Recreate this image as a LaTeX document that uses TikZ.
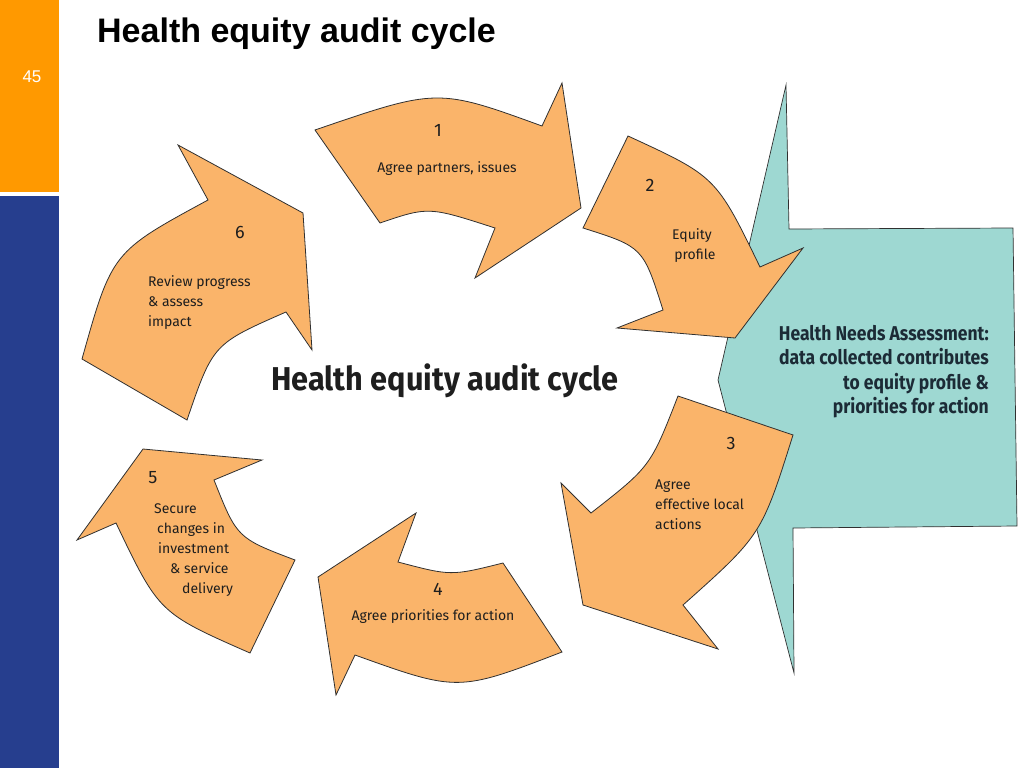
\documentclass[tikz,border=0pt]{standalone}
\usepackage{fontspec}
\usepackage{tikz}
\setmainfont{Liberation Sans}
\newfontfamily\labelfont{Fira Sans}
\newfontfamily\needsfont[FakeStretch=0.875]{Fira Sans}
\newfontfamily\cyclefont[FakeStretch=0.93]{Fira Sans}

\definecolor{slideorange}{HTML}{FF9900}
\definecolor{slideblue}{HTML}{263E8E}
\definecolor{arroworange}{HTML}{FAB46A}
\definecolor{needsteal}{HTML}{9ED8D2}
\definecolor{inkline}{HTML}{303030}
\definecolor{labelink}{HTML}{1E1E1E}
\definecolor{tealink}{HTML}{1C2B36}

\begin{document}
\begin{tikzpicture}[x=1pt,y=-1pt,
  stage/.style={fill=arroworange,draw=inkline,line width=0.8pt,line join=miter},
  needs/.style={fill=needsteal,draw=inkline,line width=0.7pt},
  lbl/.style={font=\labelfont\fontsize{14}{20}\selectfont,text=labelink,inner sep=0pt},
  num/.style={lbl,font=\labelfont\fontsize{18}{20}\selectfont}]

\useasboundingbox (0,0) rectangle (1024,768);

% slide side bars
\fill[slideorange] (0,0) rectangle (59,192);
\fill[slideblue] (0,196) rectangle (59,768);
\node[text=white,font=\fontsize{17}{20}\selectfont] (page) at (32,77) {45};
\node[font=\bfseries\fontsize{34}{38}\selectfont,anchor=base west,inner sep=0pt] (title) at (97,43) {Health equity audit cycle};

% health needs assessment block
\draw[needs] (786,85) -- (789,229) -- (1013,228) -- (1017,526) -- (793,528) -- (794,673) -- (718,380) -- cycle;
\node[font=\needsfont\bfseries\fontsize{20}{24.5}\selectfont,text=tealink,align=right,anchor=north east,inner sep=0pt] (hna) at (989,325)
  {Health Needs Assessment:\\data collected contributes\\to equity profile \&\\priorities for action};

% the six stages
\draw[stage] (315,130) .. controls (437.5,88) .. (542,126) -- (562,83) -- (581,208) -- (475,278) -- (495,228) .. controls (428.5,206.5) .. (380,223) -- cycle;
\draw[stage] (628,136) .. controls (716,176.5) .. (760,267) -- (803,248) -- (735,338) -- (617,328) -- (663,310) .. controls (643,247) .. (583,228) -- cycle;
\draw[stage] (678,396) -- (793,435) .. controls (761.5,535) .. (683,605) -- (718,649) -- (583,605) -- (561,483) -- (591,513) .. controls (650.5,466.5) .. (678,396) -- cycle;
\draw[stage] (416,513) -- (318,577) -- (336,695) -- (355,655) .. controls (458,692) .. (562,652) -- (503,563) .. controls (451,576) .. (398,562) -- cycle;
\draw[stage] (77,540) -- (143,449) -- (262,460) -- (214,480) .. controls (237,538) .. (295,560) -- (250,653) .. controls (159,613) .. (116,523) -- cycle;
\draw[stage] (178,145) -- (303,213) -- (312,350) -- (286,312) .. controls (213,344) .. (187,420) -- (82,359) .. controls (112,252) .. (208,200) -- cycle;

% stage labels
\node[num] (n1) at (438,130) {1};
\node[lbl] (s1) at (447,169) {Agree partners, issues};
\node[num] (n2) at (650,185) {2};
\node[lbl,align=center] (s2) at (692,246) {Equity\\ \hspace*{6pt}profile};
\node[num] (n3) at (731,443) {3};
\node[lbl,align=left,anchor=west] (s3) at (655,505) {Agree\\effective local\\actions};
\node[num] (n4) at (438,589) {4};
\node[lbl] (s4) at (433,617) {Agree priorities for action};
\node[num] (n5) at (153,478) {5};
\node[lbl,align=left,anchor=north west] (s5) at (154,503) {Secure\\\hspace*{3pt}changes in\\\hspace*{4pt}investment\\\hspace*{16pt}\& service\\\hspace*{28pt}delivery};
\node[num] (n6) at (240,232) {6};
\node[lbl,align=left,anchor=west] (s6) at (148,303) {Review progress\\\& assess\\impact};

% centre caption
\node[font=\cyclefont\bfseries\fontsize{33}{36}\selectfont,text=labelink] (cycle) at (445,381) {Health equity audit cycle};
\end{tikzpicture}
\end{document}
